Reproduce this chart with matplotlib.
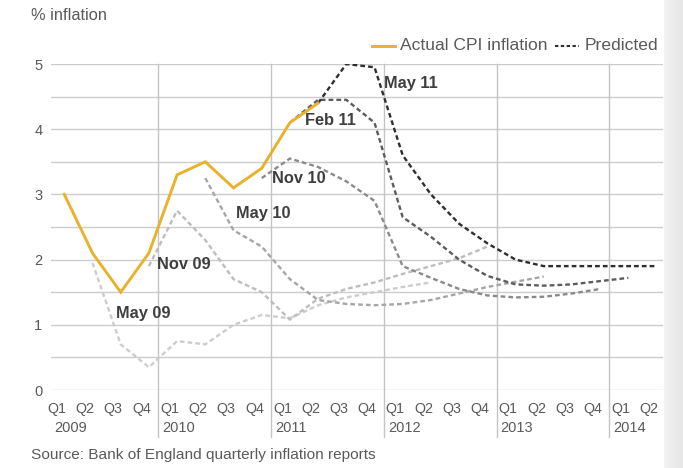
import matplotlib
matplotlib.use("Agg")
import matplotlib.pyplot as plt
from matplotlib.lines import Line2D
import numpy as np

# ---- data -------------------------------------------------------------
years = ["2009", "2010", "2011", "2012", "2013", "2014"]
quarters = ["Q1", "Q2", "Q3", "Q4"]
n_quarters = 22  # Q1 2009 .. Q2 2014

# Actual CPI inflation, Q1 2009 .. Q2 2011
actual_cpi = [3.0, 2.1, 1.5, 2.1, 3.3, 3.5, 3.1, 3.4, 4.1, 4.4]

# Bank of England projections (quarter index of first point, values)
may09_start, may09 = 1, [1.95, 0.7, 0.35, 0.75, 0.7, 1.0, 1.15, 1.1, 1.3, 1.42, 1.5, 1.58, 1.65]
nov09_start, nov09 = 3, [1.9, 2.75, 2.3, 1.7, 1.5, 1.08, 1.4, 1.55, 1.65, 1.78, 1.9, 2.02, 2.2]
may10_start, may10 = 5, [3.25, 2.45, 2.2, 1.7, 1.38, 1.32, 1.3, 1.32, 1.38, 1.48, 1.58, 1.66, 1.74]
nov10_start, nov10 = 7, [3.25, 3.55, 3.42, 3.2, 2.9, 1.9, 1.72, 1.55, 1.45, 1.42, 1.43, 1.48, 1.55]
feb11_start, feb11 = 8, [4.1, 4.45, 4.45, 4.1, 2.65, 2.35, 2.0, 1.75, 1.62, 1.6, 1.62, 1.67, 1.72]
may11_start, may11 = 9, [4.4, 5.0, 4.95, 3.6, 3.0, 2.55, 2.25, 2.0, 1.9, 1.9, 1.9, 1.9, 1.9]

forecast_names = ["May 09", "Nov 09", "May 10", "Nov 10", "Feb 11", "May 11"]

# ---- style ------------------------------------------------------------
FONT = ["Liberation Sans", "DejaVu Sans"]
plt.rcParams["font.family"] = FONT
TEXT_GREY = "#5a5a5a"
GRID = "#cccccc"
YELLOW = "#e9b22c"

forecasts = [
    (may09_start, may09, "#cdcdcd"),
    (nov09_start, nov09, "#bdbdbd"),
    (may10_start, may10, "#a6a6a6"),
    (nov10_start, nov10, "#8a8a8a"),
    (feb11_start, feb11, "#5c5c5c"),
    (may11_start, may11, "#2e2e2e"),
]
label_anchor = [(1.83, 1.18), (3.28, 1.92), (6.1, 2.7), (7.35, 3.24), (8.54, 4.14), (11.34, 4.7)]

W, H = 683, 468
fig = plt.figure(figsize=(W / 100, H / 100), dpi=100)
fig.patch.set_facecolor("white")

ax_left, ax_right, ax_top, ax_bot = 50.7, 663, 64, 390
ax = fig.add_axes([ax_left / W, 1 - ax_bot / H, (ax_right - ax_left) / W, (ax_bot - ax_top) / H])
ax.set_xlim(-0.482, 21.23)
ax.set_ylim(0, 5)

for s in ax.spines.values():
    s.set_visible(False)

# horizontal grid every half point
for v in np.arange(0, 5.01, 0.5):
    ax.axhline(v, color=GRID, lw=1.0, zorder=0)

# year separators, running down through the tick labels
year_lines = [4 * k - 0.67 for k in range(1, len(years))]
for xl in year_lines:
    ax.plot([xl, xl], [5, -0.72], color="#c4c4c4", lw=1.0, zorder=0, clip_on=False)

# y ticks
ax.set_yticks(range(0, 6))
ax.set_yticklabels([str(v) for v in range(0, 6)])
ax.tick_params(axis="y", length=0, pad=6, labelsize=10.5, labelcolor=TEXT_GREY)

# x tick labels: quarters and years
ax.set_xticks([])
trans = ax.get_xaxis_transform()
for i in range(n_quarters):
    ax.text(i - 0.26, -0.058, quarters[i % 4], transform=trans, ha="center", va="center",
            fontsize=10.3, color=TEXT_GREY)
year_starts = [-0.48 + 0.12] + [xl + 0.14 for xl in year_lines]
for xs, yr in zip(year_starts, years):
    ax.text(xs, -0.117, yr, transform=trans, ha="left", va="center", fontsize=10.5, color=TEXT_GREY)

# projections
for (start, vals, col), name, (lx, ly) in zip(forecasts, forecast_names, label_anchor):
    xs = np.arange(start, start + len(vals))
    ax.plot(xs, vals, color=col, lw=1.7, dashes=(2.0, 1.3), zorder=2,
            solid_capstyle="butt", dash_capstyle="butt")
    ax.text(lx, ly, name, ha="left", va="center", fontsize=11.8, fontweight="bold",
            color="#3e3e3e", zorder=4)

# actual
ax.plot(np.arange(len(actual_cpi)), actual_cpi, color=YELLOW, lw=2.1, zorder=3,
        solid_joinstyle="miter")

# titles and source
fig.text(31 / W, 1 - 16 / H, "% inflation", ha="left", va="center", fontsize=11.8, color=TEXT_GREY)
fig.text(31 / W, 1 - 455 / H, "Source: Bank of England quarterly inflation reports",
         ha="left", va="center", fontsize=11.1, color=TEXT_GREY)

# legend
ly = 1 - 46 / H
fig.add_artist(Line2D([372 / W, 395 / W], [ly, ly], color=YELLOW, lw=2.1))
fig.text(400 / W, ly, "Actual CPI inflation", ha="left", va="center", fontsize=12.6, color=TEXT_GREY)
fig.add_artist(Line2D([555 / W, 579 / W], [ly, ly], color="#2e2e2e", lw=1.5, dashes=(1.6, 1.2)))
fig.text(585 / W, ly, "Predicted", ha="left", va="center", fontsize=12.6, color=TEXT_GREY)

# soft grey border on the right edge
edge = fig.add_axes([664 / W, 0, (W - 664) / W, 1])
grad = np.linspace(0.95, 0.90, 50)[None, :, None] * np.ones((10, 1, 3))
edge.imshow(grad, aspect="auto", extent=[0, 1, 0, 1], vmin=0, vmax=1)
edge.axis("off")

fig.savefig("out.png", dpi=100, facecolor="white")
